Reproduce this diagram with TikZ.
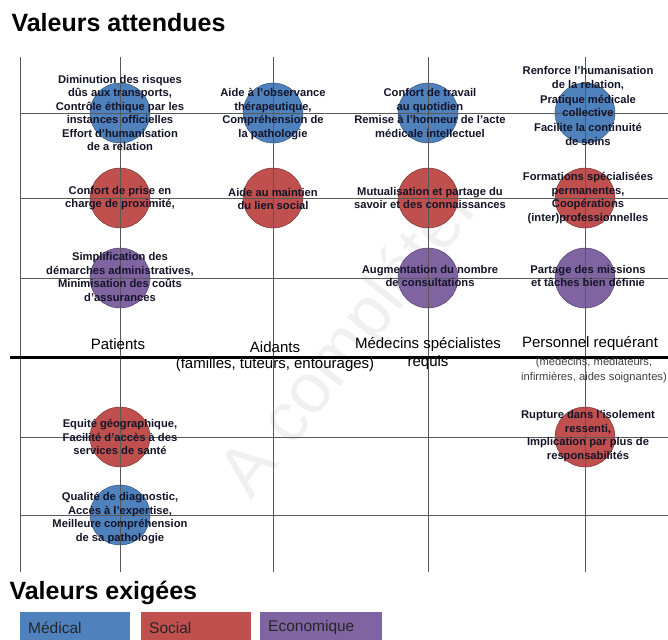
\documentclass[tikz,border=0pt]{standalone}
\usepackage{fontspec}
\setmainfont{Liberation Sans}
\usetikzlibrary{calc}
\definecolor{medbleu}{HTML}{4F81BD}
\definecolor{socrouge}{HTML}{C0504D}
\definecolor{ecoviolet}{HTML}{8064A2}
\definecolor{texte}{HTML}{141428}

\tikzset{
	valeur/.style={circle, minimum size=60pt, inner sep=0pt, draw=#1!55!black, fill=#1},
	etiquette/.style={align=center, text=texte, font=\fontsize{11.2}{13.5}\selectfont\bfseries},
	colonne/.style={align=center, font=\fontsize{15}{18}\selectfont},
	detail/.style={align=center, text=black!75, font=\fontsize{11.2}{15}\selectfont},
	titre/.style={anchor=west, font=\fontsize{25}{28}\selectfont\bfseries},
	legende/.style={anchor=north west, minimum width=110pt, minimum height=31pt, inner sep=0pt, text width=94pt, align=left, font=\fontsize{15.5}{18}\selectfont, text=black!85}
}

\begin{document}
\begin{tikzpicture}[x=1pt,y=-1pt]
	%%%%% START %%%%%
	\def\xzero{20}
	\def\xpat{120}
	\def\xaid{273}
	\def\xmed{428}
	\def\xper{585}
	\def\xfin{668}
	\def\yone{113}
	\def\ytwo{198}
	\def\ythree{278}
	\def\yfour{437}
	\def\yfive{515}
	\def\yhaut{57}
	\def\ybas{572}
	\def\ysep{357}
	
	\useasboundingbox (0,0) rectangle (668,639);
	
	% filigrane
	\node (filigrane) [rotate=52, text=black!6, font=\fontsize{70}{70}\selectfont] at (352,342) {A compléter};
	
	% cercles
	\node (cpat1) [valeur=medbleu] at (\xpat,\yone) {};
	\node (cpat2) [valeur=socrouge] at (\xpat,\ytwo) {};
	\node (cpat3) [valeur=ecoviolet] at (\xpat,\ythree) {};
	\node (cpat4) [valeur=socrouge] at (\xpat,\yfour) {};
	\node (cpat5) [valeur=medbleu] at (\xpat,\yfive) {};
	\node (caid1) [valeur=medbleu] at (\xaid,\yone) {};
	\node (caid2) [valeur=socrouge] at (\xaid,\ytwo) {};
	\node (cmed1) [valeur=medbleu] at (\xmed,\yone) {};
	\node (cmed2) [valeur=socrouge] at (\xmed,\ytwo) {};
	\node (cmed3) [valeur=ecoviolet] at (\xmed,\ythree) {};
	\node (cper1) [valeur=medbleu] at (\xper,\yone) {};
	\node (cper2) [valeur=socrouge] at (\xper,\ytwo) {};
	\node (cper3) [valeur=ecoviolet] at (\xper,\ythree) {};
	\node (cper4) [valeur=socrouge] at (\xper,\yfour) {};
	
	% grille
	\foreach \x in {\xzero,\xpat,\xaid,\xmed,\xper}
		\draw[black!65, line width=0.9pt] (\x,\yhaut) -- (\x,\ybas);
	\foreach \y in {\yone,\ytwo,\ythree,\yfour,\yfive}
		\draw[black!65, line width=0.9pt] (\xzero,\y) -- (\xfin,\y);
	\draw[line width=3pt] (10,\ysep) -- (\xfin,\ysep);
	
	% textes des cercles
	\node (tpat1) [etiquette] at (\xpat,113) {Diminution des risques\\dûs aux transports,\\Contrôle éthique par les\\instances officielles\\Effort d’humanisation\\de a relation};
	\node (tpat2) [etiquette] at (\xpat,198) {Confort de prise en\\charge de proximité,};
	\node (tpat3) [etiquette] at (\xpat,277) {Simplification des\\démarches administratives,\\Minimisation des coûts\\d’assurances};
	\node (tpat4) [etiquette] at (\xpat,437) {Equité géographique,\\Facilité d’accès à des\\services de santé};
	\node (tpat5) [etiquette] at (\xpat,518) {Qualité de diagnostic,\\Accès à l’expertise,\\Meilleure compréhension\\de sa pathologie};
	\node (taid1) [etiquette] at (\xaid,114) {Aide à l’observance\\thérapeutique,\\Compréhension de\\la pathologie};
	\node (taid2) [etiquette] at (\xaid,199) {Aide au maintien\\du lien social};
	\node (tmed1) [etiquette] at (430,113) {Confort de travail\\au quotidien\\Remise à l’honneur de l’acte\\médicale intellectuel};
	\node (tmed2) [etiquette] at (430,198) {Mutualisation et partage du\\savoir et des connaissances};
	\node (tmed3) [etiquette] at (430,276) {Augmentation du nombre\\de consultations};
	\node (tper1) [etiquette] at (588,106) {Renforce l’humanisation\\de la relation,\\[1.5pt]Pratique médicale\\collective\\[1.5pt]Facilite la continuité\\de soins};
	\node (tper2) [etiquette] at (588,198) {Formations spécialisées\\permanentes,\\Coopérations\\(inter)professionnelles};
	\node (tper3) [etiquette] at (588,276) {Partage des missions\\et tâches bien définie};
	\node (tper4) [etiquette] at (588,436) {Rupture dans l’isolement\\ressenti,\\Implication par plus de\\responsabilités};
	
	% colonnes
	\node (patients) [colonne] at (118,344) {Patients};
	\node (aidants) [colonne] at (275,347) {Aidants};
	\node (aidantsdet) [colonne] at (275,365) {(familles, tuteurs, entourages)};
	\node (medecins) [colonne] at (428,345) {Médecins spécialistes};
	\node (medecinsdet) [colonne] at (428,363) {requis};
	\node (personnel) [colonne] at (590,344) {Personnel requérant};
	\node (personneldet) [detail] at (594,370) {(médecins, médiateurs,\\infirmières, aides soignantes)};
	
	% titres
	\node (attendues) [titre] at (8,23) {Valeurs attendues};
	\node (exigees) [titre] at (6,593) {Valeurs exigées};
	
	% legende
	\node (lmed) [legende, fill=medbleu] at (20,612) {Médical};
	\node (lsoc) [legende, fill=socrouge] at (141,612) {Social};
	\node (leco) [legende, fill=ecoviolet, minimum width=122pt, text width=106pt] at (260,612) {Economique};
	%%%%% END %%%%%
\end{tikzpicture}
\end{document}
